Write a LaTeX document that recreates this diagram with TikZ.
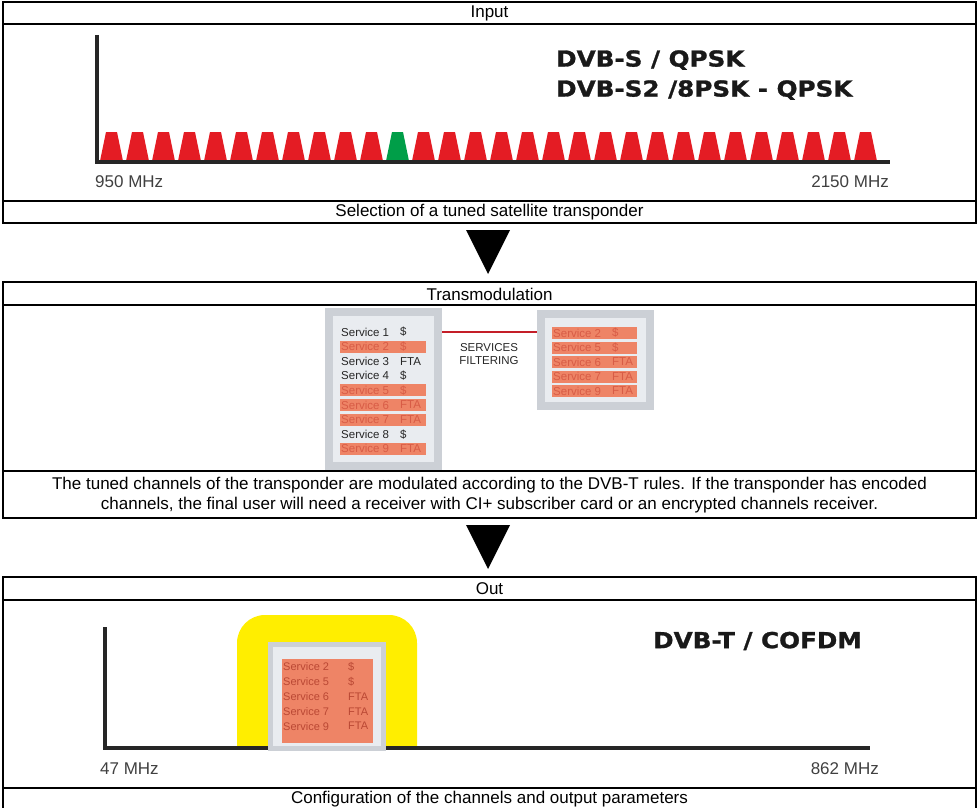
\documentclass[tikz,border=0pt]{standalone}
\usepackage{fontspec}
\setmainfont{Liberation Sans}
\newfontfamily\heavyfont[FakeStretch=1.12,BoldFeatures={FakeBold=1.2}]{DejaVu Sans}
\usetikzlibrary{positioning,calc}

\definecolor{chred}{RGB}{228,28,36}
\definecolor{chgreen}{RGB}{0,158,72}
\definecolor{framegrey}{RGB}{204,208,214}
\definecolor{panelgrey}{RGB}{233,236,240}
\definecolor{svbar}{RGB}{238,132,102}
\definecolor{svtxt}{RGB}{216,92,70}
\definecolor{outtxt}{RGB}{186,72,52}
\definecolor{filtred}{RGB}{196,30,40}
\definecolor{bandyel}{RGB}{255,238,0}

\tikzset{
  frame/.style={draw=black,line width=1.3pt},
  rowtxt/.style={font=\fontsize{17}{20}\selectfont,inner sep=0pt,align=center},
  axis/.style={line width=4pt,draw=black!85,line join=miter},
  freq/.style={font=\fontsize{17}{20}\selectfont,text=black!75,inner sep=0pt},
  std/.style={font=\heavyfont\bfseries\fontsize{22}{26}\selectfont,text=black!90,
              anchor=west,inner sep=0pt},
  panel/.style={draw=framegrey,fill=panelgrey,inner sep=0pt},
  svc/.style={font=\fontsize{11.5}{13}\selectfont,anchor=west,inner sep=0pt,text=black!85},
  hit/.style={svc,text=svtxt},
  osvc/.style={font=\fontsize{11}{13}\selectfont,anchor=west,inner sep=0pt,text=outtxt},
  filt/.style={draw=filtred,line width=2.6pt},
  flowhead/.style={fill=black},
}

\begin{document}
\begin{tikzpicture}[x=1pt,y=-1pt]
  \useasboundingbox (0,0) rectangle (978,808);

  % --- input spectrum
  \draw[frame] (3,2) rectangle (976,223);
  \draw[frame] (3,24) -- (976,24);
  \draw[frame] (3,201) -- (976,201);
  \node[rowtxt] (intitle) at (489.5,13) {Input};
  \node[rowtxt] (incap) at (489.5,212) {Selection of a tuned satellite transponder};

  \foreach \i in {0,...,29}{
    \ifnum\i=11 \def\chcol{chgreen}\else\def\chcol{chred}\fi
    \fill[\chcol] ({100+26*\i},161) -- ++(6,-29) -- ++(11,0) -- ++(6,29) -- cycle;
  }
  \draw[axis] (97,35) -- (97,162) -- (890,162);
  \node[freq,anchor=west] (inlo) at (95,182) {950 MHz};
  \node[freq,anchor=east] (inhi) at (889,182) {2150 MHz};
  \node[std] (dvbs) at (556,60) {DVB-S / QPSK};
  \node[std] (dvbstwo) at (556,90) {DVB-S2 /8PSK - QPSK};

  \fill[flowhead] (466,230) -- (510,230) -- (488,274) -- cycle;

  % --- transmodulation
  \draw[frame] (3,282) rectangle (976,518);
  \draw[frame] (3,305) -- (976,305);
  \draw[frame] (3,471) -- (976,471);
  \node[rowtxt] (tmtitle) at (489.5,294) {Transmodulation};
  \node[rowtxt] (tmcap) at (489.5,495) {The tuned channels of the transponder are modulated according to the DVB-T rules. If the transponder has encoded\\
    channels, the final user will need a receiver with CI+ subscriber card or an encrypted channels receiver.};

  \node[panel,line width=8pt,minimum width=109pt,minimum height=154pt] (srcbox) at (383.5,389) {};
  \node[panel,line width=8pt,minimum width=109pt,minimum height=92pt] (dstbox) at (595.5,360) {};

  \foreach \k/\n/\c/\h in {0/1/\$/0,1/2/\$/1,2/3/FTA/0,3/4/\$/0,4/5/\$/1,
                            5/6/FTA/1,6/7/FTA/1,7/8/\$/0,8/9/FTA/1}{
    \pgfmathsetmacro\ry{332+14.6*\k}
    \ifnum\h=1
      \fill[svbar] (340,\ry-6) rectangle (426,\ry+6);
      \node[hit] (lsvc\n) at (341,\ry) {Service \n};
      \node[hit] (lcost\n) at (400,\ry) {\c};
    \else
      \node[svc] (lsvc\n) at (341,\ry) {Service \n};
      \node[svc] (lcost\n) at (400,\ry) {\c};
    \fi
  }
  \foreach \k/\n/\c in {0/2/\$,1/5/\$,2/6/FTA,3/7/FTA,4/9/FTA}{
    \pgfmathsetmacro\ry{333+14.5*\k}
    \fill[svbar] (552,\ry-6) rectangle (637,\ry+6);
    \node[hit] (rsvc\n) at (553,\ry) {Service \n};
    \node[hit] (rcost\n) at (612,\ry) {\c};
  }
  \draw[filt] (srcbox.east |- lsvc1) -- (dstbox.west |- lsvc1);
  \node[font=\fontsize{11.5}{13}\selectfont,align=center,inner sep=0pt,text=black!85]
    (filtlbl) at (489,354) {SERVICES\\FILTERING};

  \fill[flowhead] (466,525) -- (510,525) -- (488,569) -- cycle;

  % --- output spectrum
  \draw[frame] (3,577) rectangle (976,812);
  \draw[frame] (3,600) -- (976,600);
  \draw[frame] (3,788) -- (976,788);
  \node[rowtxt] (outtitle) at (489.5,589) {Out};
  \node[rowtxt] (outcap) at (489.5,799) {Configuration of the channels and output parameters};

  \fill[bandyel] (237,748) [rounded corners=28pt] -- (237,615) -- (417,615)
    [sharp corners] -- (417,748) -- cycle;
  \draw[axis] (105,627) -- (105,748) -- (870,748);
  \node[panel,line width=5pt,minimum width=113pt,minimum height=104pt] (outbox) at (327,696.5) {};
  \node[fill=svbar,inner sep=0pt,minimum width=91pt,minimum height=84pt] (outlist) at (327.5,701) {};
  \foreach \k/\n/\c in {0/2/\$,1/5/\$,2/6/FTA,3/7/FTA,4/9/FTA}{
    \pgfmathsetmacro\ry{667+14.8*\k}
    \node[osvc] (osvc\n) at (283,\ry) {Service \n};
    \node[osvc] (ocost\n) at (348,\ry) {\c};
  }
  \node[freq,anchor=west] (outlo) at (100,769) {47 MHz};
  \node[freq,anchor=east] (outhi) at (879,769) {862 MHz};
  \node[std] (dvbt) at (653,641) {DVB-T / COFDM};
\end{tikzpicture}
\end{document}
